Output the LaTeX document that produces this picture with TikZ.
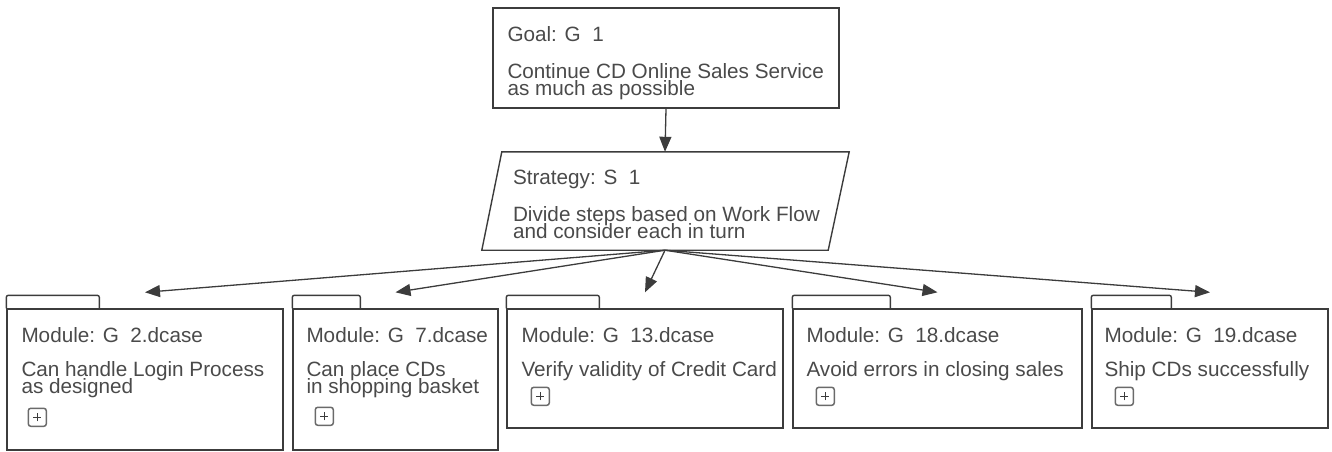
\documentclass[tikz,border=0pt]{standalone}
\usepackage{fontspec}
\setmainfont{Liberation Sans}
\usetikzlibrary{arrows.meta,calc}

\definecolor{edge}{HTML}{3C3C3C}
\definecolor{ink}{HTML}{4A4A4A}
\definecolor{iconc}{HTML}{6A6A6A}

\tikzset{
  frame/.style={rectangle, draw=edge, line width=1.4pt, inner sep=0pt},
  ghost/.style={rectangle, inner sep=0pt},
  outline/.style={draw=edge, line width=1.4pt},
  tabline/.style={draw=edge, line width=1.4pt, rounded corners=2pt},
  txt/.style={anchor=base west, inner sep=0pt, text=ink, font=\fontsize{20.7}{18}\selectfont},
  link/.style={draw=edge, line width=1.3pt, -{Triangle[length=15pt,width=12pt]}},
  expander/.style={rectangle, rounded corners=2.5pt, draw=iconc, line width=1.5pt,
                   minimum size=18pt, inner sep=0pt},
  plus/.style={draw=edge, line width=1.3pt},
}

% small "+" marker inside an expander node
\newcommand\plusmark[1]{%
  \draw[plus] ([xshift=-4pt]#1.center) -- ([xshift=4pt]#1.center)
              ([yshift=-4pt]#1.center) -- ([yshift=4pt]#1.center);}

\begin{document}
\begin{tikzpicture}[x=1pt,y=-1pt]
\useasboundingbox (0,0) rectangle (1332,451);

% ---------- top goal ----------
\node[frame, minimum width=346pt, minimum height=100pt] (G) at (666,58) {};
\node[txt] (Gt)  at ($(G.north west)+(15,34)$) {Goal: G\ \ 1};
\node[txt] (Gd1) at ($(G.north west)+(15,71)$) {Continue CD Online Sales Service};
\node[txt] (Gd2) at ($(G.north west)+(15,88)$) {as much as possible};

% ---------- strategy (parallelogram) ----------
\node[ghost, minimum width=346pt, minimum height=98pt] (S) at (665,201) {};
\draw[outline] ($(S.north west)+(10,0)$) -- ($(S.north east)+(11,0)$)
   -- ($(S.south east)+(-10,0)$) -- ($(S.south west)+(-10,0)$) -- cycle;
\node[txt] (St)  at ($(S.north west)+(21,33)$) {Strategy: S\ \ 1};
\node[txt] (Sd1) at ($(S.north west)+(21,70)$) {Divide steps based on Work Flow};
\node[txt] (Sd2) at ($(S.north west)+(21,87)$) {and consider each in turn};

\draw[link] (G.south) -- (S.north);

% ---------- modules ----------
% M1
\node[frame, minimum width=276pt, minimum height=141pt] (M1) at (145,379.5) {};
\draw[tabline] (M1.north west) -- ++(0,-13) -- ++(93,0) -- ++(0,13);
\node[txt] (M1t)  at ($(M1.north west)+(15,34)$) {Module: G\ \ 2.dcase};
\node[txt] (M1d1) at ($(M1.north west)+(15,68)$) {Can handle Login Process};
\node[txt] (M1d2) at ($(M1.north west)+(15,85)$) {as designed};
\node[expander] (I1) at ($(M1.north west)+(31,109)$) {};
\plusmark{I1}

% M2
\node[frame, minimum width=205pt, minimum height=141pt] (M2) at (395.5,379.5) {};
\draw[tabline] (M2.north west) -- ++(0,-13) -- ++(68,0) -- ++(0,13);
\node[txt] (M2t)  at ($(M2.north west)+(14,34)$) {Module: G\ \ 7.dcase};
\node[txt] (M2d1) at ($(M2.north west)+(14,68)$) {Can place CDs};
\node[txt] (M2d2) at ($(M2.north west)+(14,85)$) {in shopping basket};
\node[expander] (I2) at ($(M2.north west)+(32,108)$) {};
\plusmark{I2}

% M3
\node[frame, minimum width=276pt, minimum height=119pt] (M3) at (645,368.5) {};
\draw[tabline] (M3.north west) -- ++(0,-13) -- ++(93,0) -- ++(0,13);
\node[txt] (M3t)  at ($(M3.north west)+(15,34)$) {Module: G\ \ 13.dcase};
\node[txt] (M3d1) at ($(M3.north west)+(15,68)$) {Verify validity of Credit Card};
\node[expander] (I3) at ($(M3.north west)+(34,88)$) {};
\plusmark{I3}

% M4
\node[frame, minimum width=289pt, minimum height=119pt] (M4) at (937.5,368.5) {};
\draw[tabline] (M4.north west) -- ++(0,-13) -- ++(98,0) -- ++(0,13);
\node[txt] (M4t)  at ($(M4.north west)+(14,34)$) {Module: G\ \ 18.dcase};
\node[txt] (M4d1) at ($(M4.north west)+(14,68)$) {Avoid errors in closing sales};
\node[expander] (I4) at ($(M4.north west)+(33,88)$) {};
\plusmark{I4}

% M5
\node[frame, minimum width=236pt, minimum height=119pt] (M5) at (1210,368.5) {};
\draw[tabline] (M5.north west) -- ++(0,-13) -- ++(80,0) -- ++(0,13);
\node[txt] (M5t)  at ($(M5.north west)+(13,34)$) {Module: G\ \ 19.dcase};
\node[txt] (M5d1) at ($(M5.north west)+(13,68)$) {Ship CDs successfully};
\node[expander] (I5) at ($(M5.north west)+(33,88)$) {};
\plusmark{I5}

% ---------- connectors from the strategy ----------
\foreach \m in {M1,M2,M3,M4,M5}
  \draw[link] (S.south) -- ([yshift=16pt]\m.north);

\end{tikzpicture}
\end{document}
